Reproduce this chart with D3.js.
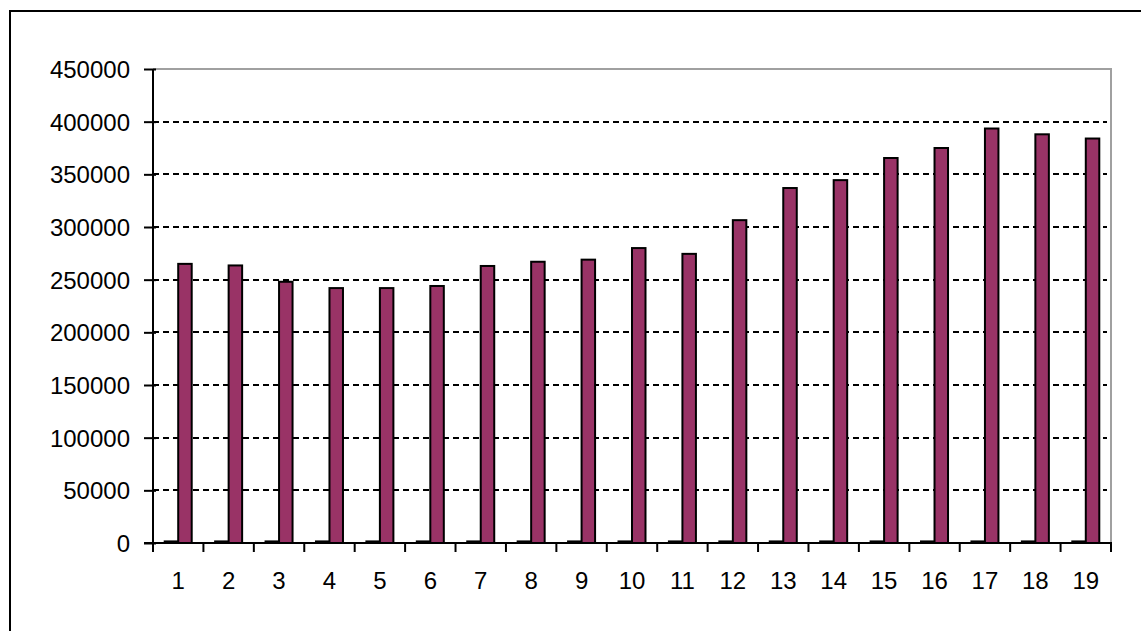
<!DOCTYPE html>
<html>
<head>
<meta charset="utf-8">
<script src="https://cdn.jsdelivr.net/npm/d3@7"></script>
<style>
  html, body { margin: 0; padding: 0; background: #fff; }
  svg { display: block; }
  text { font-family: "Liberation Sans", Arial, sans-serif; font-size: 24px; fill: #000; }
</style>
</head>
<body>
<svg id="chart" width="1141" height="631"></svg>
<script>
// Category labels along the x axis
const categories = ["1","2","3","4","5","6","7","8","9","10","11","12","13","14","15","16","17","18","19"];
// Series names (first series is tiny, second is the main one)
const seriesNames = ["Series1", "Series2"];
// Values of the small series
const series1 = [1500,1500,1500,1500,1500,1500,1500,1500,1500,1500,1500,1500,1500,1500,1500,1500,1500,1500,1500];
// Values of the main series
const series2 = [265000,263500,248000,242000,242000,244000,263000,267000,269000,280000,274500,306500,337000,344500,365500,375000,393500,388000,384000];
// Y axis tick values
const yTicks = [0,50000,100000,150000,200000,250000,300000,350000,400000,450000];
const yMax = 450000;

const svg = d3.select("#chart");
const plot = { left: 153, right: 1111, top: 69, bottom: 543 };

// Outer chart frame
svg.append("rect")
  .attr("x", 10).attr("y", 11)
  .attr("width", 1200).attr("height", 700)
  .attr("fill", "#fff").attr("stroke", "#000").attr("stroke-width", 2);

const y = d3.scaleLinear().domain([0, yMax]).range([plot.bottom, plot.top]);
const barW = 13.5;
const step = (plot.right - plot.left) / categories.length;
const x = d3.scaleBand().domain(categories)
  .range([plot.left, plot.right])
  .paddingInner(1 - 2 * barW / step)
  .paddingOuter((1 - 2 * barW / step) / 2);
const xs = d3.scaleBand().domain(seriesNames).range([0, x.bandwidth()]);

// Dashed horizontal gridlines
svg.append("g").selectAll("line")
  .data(yTicks.filter(t => t > 0 && t < yMax))
  .join("line")
  .attr("x1", plot.left).attr("x2", plot.right - 4)
  .attr("y1", d => Math.round(y(d))).attr("y2", d => Math.round(y(d)))
  .attr("stroke", "#000").attr("stroke-width", 2)
  .attr("stroke-dasharray", "6,4");

// Plot area top and right edges
svg.append("path")
  .attr("d", `M${plot.left},${plot.top} H${plot.right} V${plot.bottom}`)
  .attr("fill", "none").attr("stroke", "#a0a0a0").attr("stroke-width", 2);

// Bars
const rows = categories.map((c, i) => ({ cat: c, vals: [series1[i], series2[i]] }));
const colors = { Series1: "#9999ff", Series2: "#993366" };
const groups = svg.append("g").selectAll("g")
  .data(rows).join("g")
  .attr("transform", d => `translate(${x(d.cat)},0)`);
groups.selectAll("rect")
  .data(d => seriesNames.map((s, j) => ({ s, v: d.vals[j] })))
  .join("rect")
  .attr("x", d => xs(d.s))
  .attr("width", xs.bandwidth())
  .attr("y", d => y(d.v))
  .attr("height", d => y(0) - y(d.v))
  .attr("fill", d => colors[d.s])
  .attr("stroke", "#000").attr("stroke-width", 2);

// Y axis
const yAxis = d3.axisLeft(y).tickValues(yTicks).tickSize(0).tickFormat(d3.format("d"));
const gy = svg.append("g").attr("transform", `translate(${plot.left},0)`).call(yAxis);
gy.select(".domain").remove();
gy.selectAll(".tick line").remove();
gy.selectAll(".tick text")
  .attr("x", -23).attr("dy", "0.36em")
  .style("font-size", "24px").style("font-family", "Liberation Sans, Arial, sans-serif").attr("fill", "#000");
gy.selectAll(".tick").append("line")
  .attr("x1", -9).attr("x2", 3).attr("y1", 0).attr("y2", 0)
  .attr("stroke", "#000").attr("stroke-width", 2);
gy.append("line")
  .attr("x1", 0).attr("x2", 0).attr("y1", plot.top).attr("y2", plot.bottom + 1)
  .attr("stroke", "#000").attr("stroke-width", 2);

// X axis
const gx = svg.append("g").attr("transform", `translate(0,${plot.bottom})`);
gx.append("line")
  .attr("x1", plot.left - 9).attr("x2", plot.right + 1).attr("y1", 0).attr("y2", 0)
  .attr("stroke", "#000").attr("stroke-width", 2);
gx.selectAll("line.tk")
  .data(d3.range(categories.length + 1))
  .join("line").attr("class", "tk")
  .attr("x1", i => plot.left + i * step).attr("x2", i => plot.left + i * step)
  .attr("y1", 0).attr("y2", 9)
  .attr("stroke", "#000").attr("stroke-width", 2);
gx.selectAll("text")
  .data(categories).join("text")
  .attr("x", d => x(d) + x.bandwidth() / 2)
  .attr("y", 46)
  .attr("text-anchor", "middle")
  .text(d => d);
</script>
</body>
</html>
